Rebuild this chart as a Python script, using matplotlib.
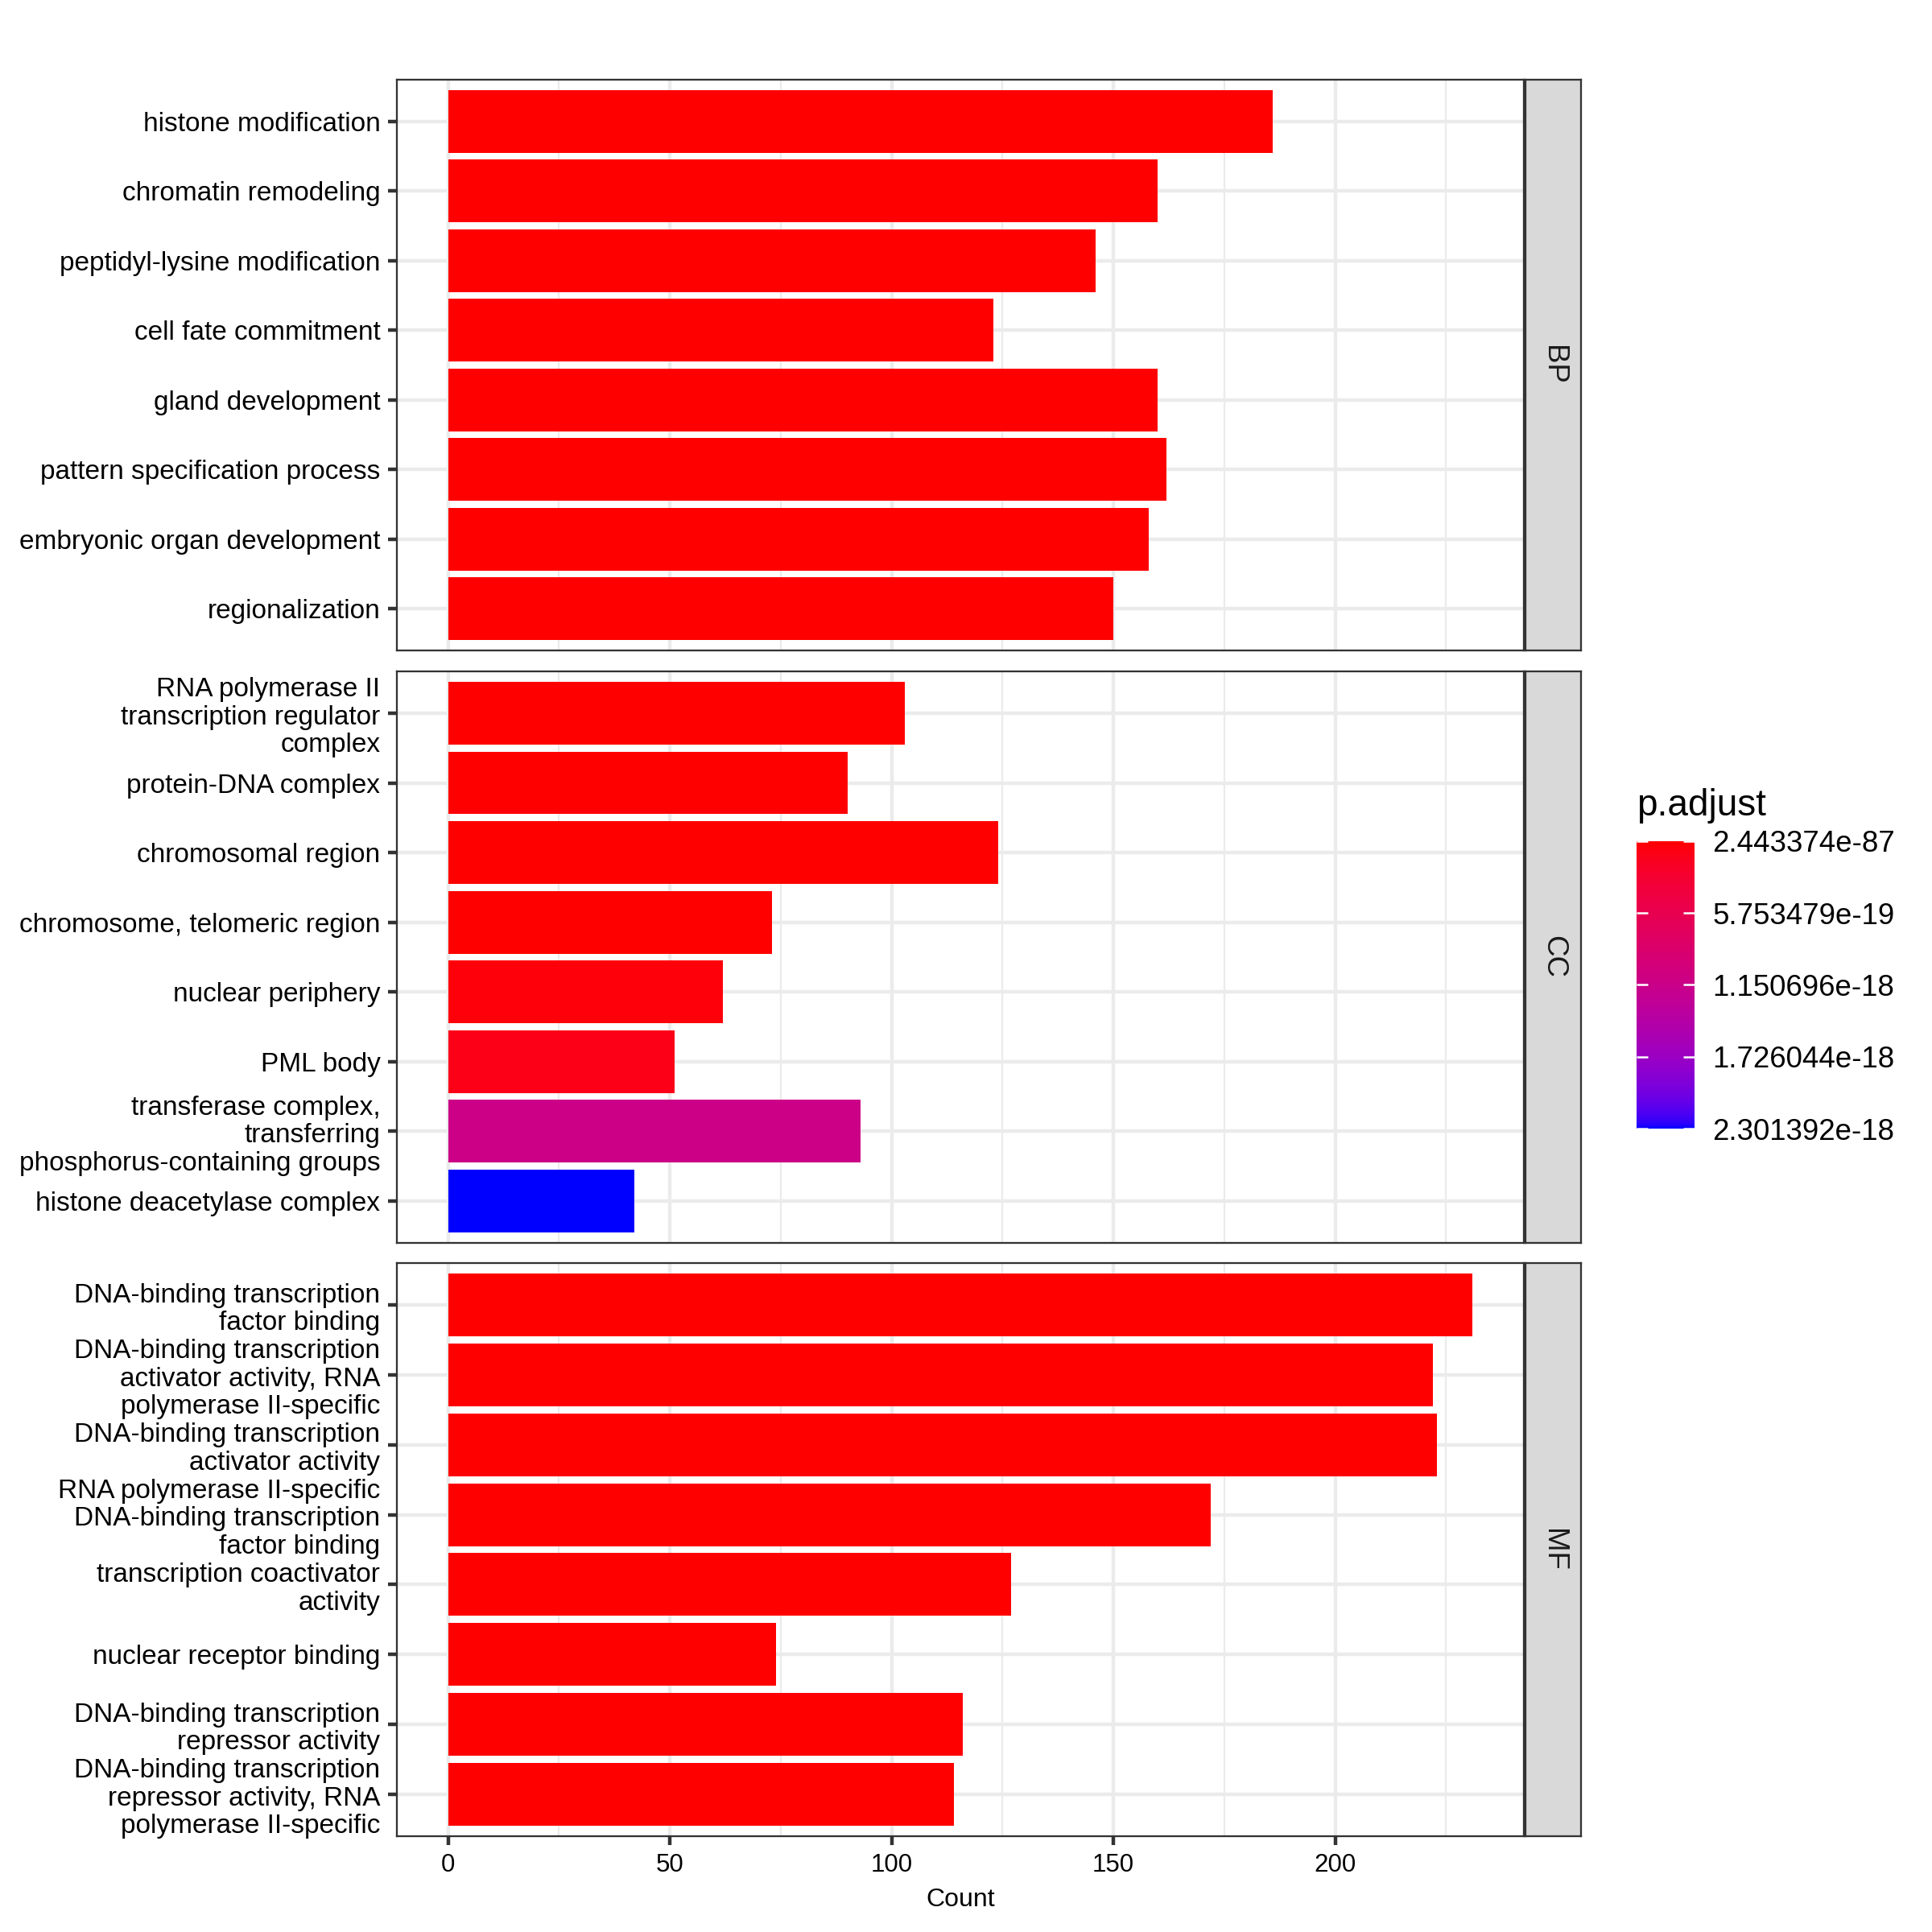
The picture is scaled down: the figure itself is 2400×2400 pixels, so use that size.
import numpy as np
import matplotlib
matplotlib.use('Agg')
import matplotlib.pyplot as plt
from matplotlib.colors import ListedColormap, Normalize
from matplotlib.cm import ScalarMappable
from matplotlib.ticker import MultipleLocator

plt.rcParams['font.family'] = ['Liberation Sans', 'DejaVu Sans']

# ---- data (top to bottom within each facet) ----
facets = ['BP', 'CC', 'MF']

bp_terms = ['histone modification', 'chromatin remodeling', 'peptidyl-lysine modification',
            'cell fate commitment', 'gland development', 'pattern specification process',
            'embryonic organ development', 'regionalization']
bp_count = [186, 160, 146, 123, 160, 162, 158, 150]
bp_padj = [1e-30, 3e-29, 5e-28, 2e-26, 6e-26, 1e-25, 4e-25, 9e-25]

cc_terms = ['RNA polymerase II\ntranscription regulator\ncomplex', 'protein-DNA complex',
            'chromosomal region', 'chromosome, telomeric region', 'nuclear periphery',
            'PML body', 'transferase complex,\ntransferring\nphosphorus-containing groups',
            'histone deacetylase complex']
cc_count = [103, 90, 124, 73, 62, 51, 93, 42]
cc_padj = [4e-26, 2e-24, 1e-22, 8e-21, 4e-20, 1.0e-19, 1.13e-18, 2.3013917e-18]

mf_terms = ['DNA-binding transcription\nfactor binding',
            'DNA-binding transcription\nactivator activity, RNA\npolymerase II-specific',
            'DNA-binding transcription\nactivator activity',
            'RNA polymerase II-specific\nDNA-binding transcription\nfactor binding',
            'transcription coactivator\nactivity', 'nuclear receptor binding',
            'DNA-binding transcription\nrepressor activity',
            'DNA-binding transcription\nrepressor activity, RNA\npolymerase II-specific']
mf_count = [231, 222, 223, 172, 127, 74, 116, 114]
mf_padj = [2.443374e-87, 5e-80, 3e-78, 1e-60, 2e-45, 7e-40, 3e-38, 9e-37]

terms = [bp_terms, cc_terms, mf_terms]
counts = [bp_count, cc_count, mf_count]
padjs = [bp_padj, cc_padj, mf_padj]

# ---- red -> blue gradient interpolated in CIELAB (like ggplot) ----
M = np.array([[0.4124, 0.3576, 0.1805], [0.2126, 0.7152, 0.0722], [0.0193, 0.1192, 0.9505]])
WHITE = np.array([0.95047, 1.0, 1.08883])


def srgb_to_lab(c):
    c = np.asarray(c, float)
    lin = np.where(c <= 0.04045, c / 12.92, ((c + 0.055) / 1.055) ** 2.4)
    xyz = M @ lin / WHITE
    f = np.where(xyz > 0.008856, np.cbrt(xyz), 7.787 * xyz + 16 / 116)
    return np.array([116 * f[1] - 16, 500 * (f[0] - f[1]), 200 * (f[1] - f[2])])


def lab_to_srgb(lab):
    L, a, b = lab
    fy = (L + 16) / 116
    f = np.array([fy + a / 500, fy, fy - b / 200])
    xyz = np.where(f ** 3 > 0.008856, f ** 3, (f - 16 / 116) / 7.787) * WHITE
    lin = np.clip(np.linalg.inv(M) @ xyz, 0, 1)
    c = np.where(lin <= 0.0031308, 12.92 * lin, 1.055 * lin ** (1 / 2.4) - 0.055)
    return np.clip(c, 0, 1)


lo, hi = srgb_to_lab([1, 0, 0]), srgb_to_lab([0, 0, 1])
cmap = ListedColormap([lab_to_srgb(lo + t * (hi - lo)) for t in np.linspace(0, 1, 256)])

all_p = np.concatenate(padjs)
norm = Normalize(vmin=all_p.min(), vmax=all_p.max())
cmax = max(max(c) for c in counts)

# ---- figure ----
fig = plt.figure(figsize=(8, 8), dpi=300)
W = H = 2400.0
left, right = 493 / W, 1893 / W
panels_px = [(99, 808), (834, 1544), (1569, 2281)]
dark = '#333333'

for i, name in enumerate(facets):
    top, bot = panels_px[i]
    b = 1 - bot / H
    h = (bot - top) / H
    ax = fig.add_axes([left, b, right - left, h])
    y = np.arange(len(terms[i]))
    ax.barh(y, counts[i], height=0.9, color=cmap(norm(np.array(padjs[i]))), zorder=3)
    ax.set_yticks(y)
    ax.set_yticklabels(terms[i], fontsize=8.0, linespacing=1.15, color='black')
    ax.set_ylim(len(y) - 0.4, -0.6)
    ax.set_xlim(-0.05 * cmax, cmax * 1.05)
    ax.xaxis.set_major_locator(MultipleLocator(50))
    ax.xaxis.set_minor_locator(MultipleLocator(25))
    ax.grid(which='major', color='#EBEBEB', lw=1.07)
    ax.grid(which='minor', axis='x', color='#EBEBEB', lw=0.53)
    ax.set_axisbelow(True)
    for s in ax.spines.values():
        s.set_color(dark)
        s.set_linewidth(0.55)
    ax.tick_params(axis='y', length=2.75, width=1.07, color=dark, pad=2.2)
    ax.tick_params(axis='x', which='minor', length=0)
    if i < 2:
        ax.tick_params(axis='x', which='major', length=0, labelbottom=False)
    else:
        ax.tick_params(axis='x', which='major', length=2.75, width=1.07, color=dark,
                       labelsize=7.5, pad=2.4, labelcolor='black')
        ax.set_xlabel('Count', fontsize=7.7, labelpad=3)

    sax = fig.add_axes([1895 / W, b, 69 / W, h])
    sax.set_facecolor('#D9D9D9')
    sax.set_xticks([])
    sax.set_yticks([])
    for s in sax.spines.values():
        s.set_color(dark)
        s.set_linewidth(0.55)
    sax.text(0.5, 0.5, name, rotation=-90, ha='center', va='center',
             fontsize=8.8, color='#1A1A1A', transform=sax.transAxes)

# ---- colour bar legend ----
cax = fig.add_axes([2033 / W, 1 - 1402 / H, 72 / W, 357 / H])
cb = fig.colorbar(ScalarMappable(norm=norm, cmap=cmap), cax=cax)
cb.outline.set_visible(False)
ticks = np.linspace(norm.vmin, norm.vmax, 5)
cb.set_ticks(ticks)
cb.set_ticklabels(['%.6e' % t for t in ticks])
cax.invert_yaxis()
cax.tick_params(direction='in', length=3.4, width=0.6, color='white', left=True, right=True,
                labelsize=8.8, pad=5.3)
fig.text(2033 / W, 1 - 1001 / H, 'p.adjust', fontsize=11, ha='left', va='center')

fig.savefig('out.png', dpi=300, facecolor='white')
